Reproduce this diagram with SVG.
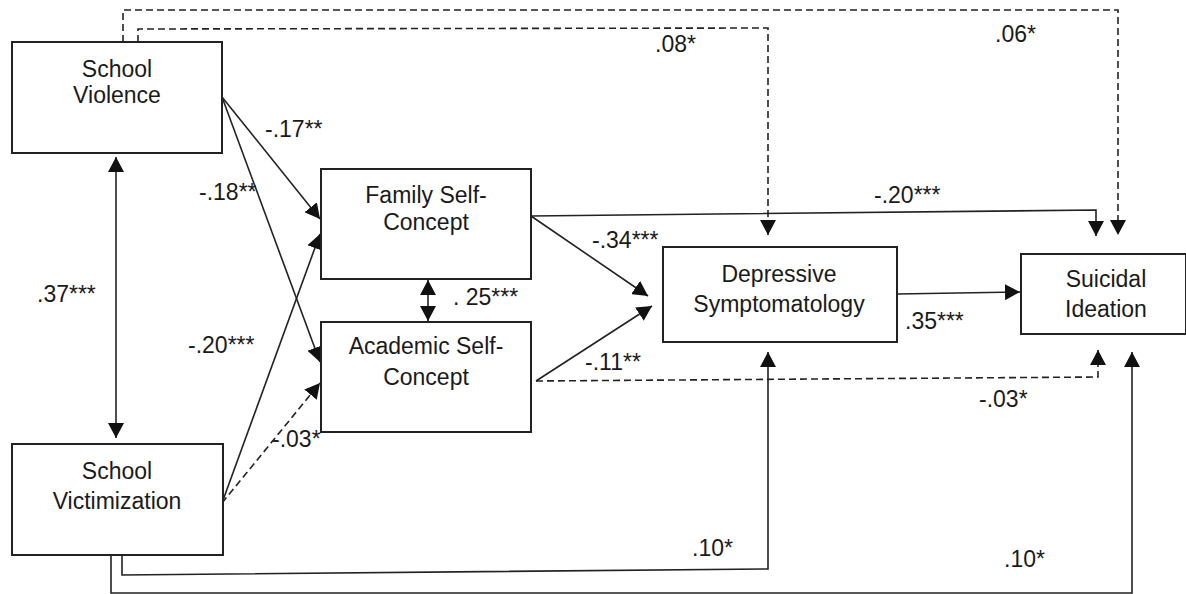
<svg xmlns="http://www.w3.org/2000/svg" width="1186" height="594" viewBox="0 0 1186 594">
<style>
.box{fill:#fff;stroke:#222;stroke-width:2}
.nt{font-family:"Liberation Sans",Arial,sans-serif;font-size:23px;fill:#1a1a1a;text-anchor:middle}
.lb{font-family:"Liberation Sans",Arial,sans-serif;font-size:23px;fill:#1a1a1a}
.c{fill:none;stroke:#222;stroke-width:1.6}
.d{stroke-dasharray:7 4}
</style>
<defs>
<marker id="ah" viewBox="0 0 15 16" refX="15" refY="8" markerWidth="15" markerHeight="16" markerUnits="userSpaceOnUse" orient="auto-start-reverse">
<path d="M0,0 L15,8 L0,16 z" fill="#111"/>
</marker>
</defs>
<rect width="1186" height="594" fill="#fff"/>
<g id="connectors">
<line class="c" x1="116" y1="157" x2="116" y2="438" marker-start="url(#ah)" marker-end="url(#ah)"/>
<line class="c" x1="222" y1="97" x2="320" y2="219" marker-end="url(#ah)"/>
<line class="c" x1="222" y1="97" x2="320" y2="362" marker-end="url(#ah)"/>
<line class="c" x1="222" y1="503" x2="320" y2="234" marker-end="url(#ah)"/>
<line class="c d" x1="222" y1="503" x2="320" y2="383" marker-end="url(#ah)"/>
<line class="c" x1="428" y1="280" x2="428" y2="321" marker-start="url(#ah)" marker-end="url(#ah)"/>
<line class="c" x1="531" y1="216" x2="648" y2="296" marker-end="url(#ah)"/>
<line class="c" x1="536" y1="381" x2="652" y2="306" marker-end="url(#ah)"/>
<path class="c" d="M531,216 L1096,210 L1096,236" marker-end="url(#ah)"/>
<path class="c d" d="M536,381 L1098,377 L1098,350" marker-end="url(#ah)"/>
<line class="c" x1="897" y1="294" x2="1020" y2="292" marker-end="url(#ah)"/>
<path class="c d" d="M138,42 L138,29 L768,28 L768,235" marker-end="url(#ah)"/>
<path class="c d" d="M123,42 L123,10 L1118,10 L1118,235" marker-end="url(#ah)"/>
<path class="c" d="M122,555 L122,575 L768,569 L768,352" marker-end="url(#ah)"/>
<path class="c" d="M111,555 L111,593 L1132,593 L1132,352" marker-end="url(#ah)"/>
</g>
<g id="school-violence">
<rect class="box" x="12" y="42" width="210" height="111"/>
<text class="nt" x="117" y="77">School</text>
<text class="nt" x="117" y="103">Violence</text>
</g>
<g id="family-self-concept">
<rect class="box" x="321" y="169" width="210" height="110"/>
<text class="nt" x="426" y="203">Family Self-</text>
<text class="nt" x="426" y="230">Concept</text>
</g>
<g id="academic-self-concept">
<rect class="box" x="321" y="322" width="210" height="110"/>
<text class="nt" x="426" y="354">Academic Self-</text>
<text class="nt" x="426" y="385">Concept</text>
</g>
<g id="school-victimization">
<rect class="box" x="12" y="444" width="211" height="111"/>
<text class="nt" x="117" y="479">School</text>
<text class="nt" x="117" y="509">Victimization</text>
</g>
<g id="depressive-symptomatology">
<rect class="box" x="663" y="247" width="234" height="95"/>
<text class="nt" x="779" y="282">Depressive</text>
<text class="nt" x="779" y="312">Symptomatology</text>
</g>
<g id="suicidal-ideation">
<rect class="box" x="1021" y="254" width="165" height="80"/>
<text class="nt" x="1106" y="287">Suicidal</text>
<text class="nt" x="1106" y="317">Ideation</text>
</g>
<g id="labels">
<text class="lb" x="655" y="52">.08*</text>
<text class="lb" x="995" y="42">.06*</text>
<text class="lb" x="265" y="137">-.17**</text>
<text class="lb" x="199" y="200">-.18**</text>
<text class="lb" x="37" y="302">.37***</text>
<text class="lb" x="188" y="353">-.20***</text>
<text class="lb" x="272" y="447">-.03*</text>
<text class="lb" x="453" y="305">. 25***</text>
<text class="lb" x="592" y="248">-.34***</text>
<text class="lb" x="585" y="370">-.11**</text>
<text class="lb" x="874" y="203">-.20***</text>
<text class="lb" x="905" y="329">.35***</text>
<text class="lb" x="979" y="407">-.03*</text>
<text class="lb" x="692" y="556">.10*</text>
<text class="lb" x="1004" y="567">.10*</text>
</g>
</svg>
